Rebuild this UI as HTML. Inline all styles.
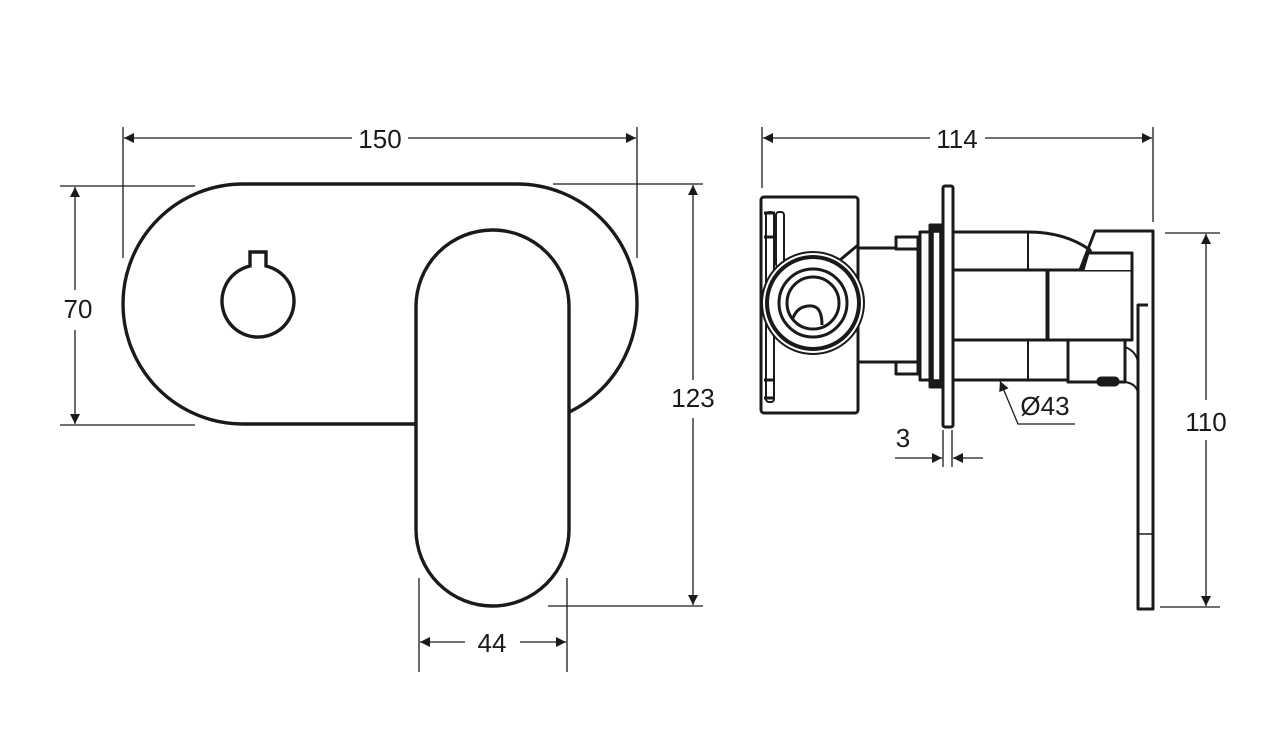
<!DOCTYPE html>
<html><head><meta charset="utf-8"><style>
html,body{margin:0;padding:0;background:#fff;}
svg{display:block}
text{font-family:"Liberation Sans",sans-serif;font-size:26px;fill:#1a1a1a;}
</style></head><body>
<svg width="1264" height="742" viewBox="0 0 1264 742" xmlns="http://www.w3.org/2000/svg">
<defs>
<marker id="a" viewBox="0 0 10 10" refX="10" refY="5" markerWidth="14" markerHeight="10" markerUnits="userSpaceOnUse" orient="auto-start-reverse"><path d="M0,0 L10,5 L0,10 z" fill="#1a1a1a"/></marker>
</defs>
<g stroke="#1a1a1a" stroke-width="1.3" fill="none">
<line x1="123" y1="127" x2="123" y2="258"/><line x1="637" y1="127" x2="637" y2="258"/>
<line x1="124" y1="138" x2="352" y2="138" marker-start="url(#a)"/><line x1="408" y1="138" x2="636" y2="138" marker-end="url(#a)"/>
<line x1="60" y1="186" x2="195" y2="186"/><line x1="60" y1="425" x2="195" y2="425"/>
<line x1="75" y1="187" x2="75" y2="290" marker-start="url(#a)"/><line x1="75" y1="330" x2="75" y2="424" marker-end="url(#a)"/>
<line x1="175" y1="252" x2="240" y2="252"/><line x1="175" y1="337" x2="240" y2="337"/>
<line x1="185" y1="253" x2="185" y2="280" marker-start="url(#a)"/><line x1="185" y1="312" x2="185" y2="336" marker-end="url(#a)"/>
<line x1="553" y1="184" x2="703" y2="184"/><line x1="548" y1="606" x2="703" y2="606"/>
<line x1="693" y1="185" x2="693" y2="380" marker-start="url(#a)"/><line x1="693" y1="418" x2="693" y2="605" marker-end="url(#a)"/>
<line x1="419" y1="578" x2="419" y2="672"/><line x1="567" y1="578" x2="567" y2="672"/>
<line x1="420" y1="642" x2="465" y2="642" marker-start="url(#a)"/><line x1="520" y1="642" x2="566" y2="642" marker-end="url(#a)"/>
<line x1="762" y1="127" x2="762" y2="188"/><line x1="1153" y1="127" x2="1153" y2="222"/>
<line x1="763" y1="138" x2="930" y2="138" marker-start="url(#a)"/><line x1="985" y1="138" x2="1152" y2="138" marker-end="url(#a)"/>
<line x1="1165" y1="233" x2="1220" y2="233"/><line x1="1160" y1="607" x2="1220" y2="607"/>
<line x1="1206" y1="234" x2="1206" y2="400" marker-start="url(#a)"/><line x1="1206" y1="440" x2="1206" y2="606" marker-end="url(#a)"/>
<line x1="943" y1="430" x2="943" y2="467"/><line x1="952" y1="430" x2="952" y2="467"/>
<line x1="895" y1="458" x2="942" y2="458" marker-end="url(#a)"/><line x1="983" y1="458" x2="953" y2="458" marker-end="url(#a)"/>
<path d="M1075,424 L1018,424 L1000,381" marker-end="url(#a)"/>
</g>
<g fill="#1a1a1a">
<text x="380" y="148" text-anchor="middle">150</text>
<text x="78" y="318" text-anchor="middle">70</text>
<text x="188" y="305" text-anchor="middle">26</text>
<text x="693" y="407" text-anchor="middle">123</text>
<text x="492" y="652" text-anchor="middle">44</text>
<text x="957" y="148" text-anchor="middle">114</text>
<text x="1206" y="431" text-anchor="middle">110</text>
<text x="903" y="447" text-anchor="middle">3</text>
<text x="1045" y="415" text-anchor="middle">Ø43</text>
</g>
<g stroke="#1a1a1a" stroke-width="3.4" fill="#fff">
<rect x="123" y="184" width="514" height="240" rx="120" ry="120"/>
<path d="M250,252 L266,252 L266,266 A36,36 0 1 1 250,266 Z" />
<rect x="416" y="230" width="153" height="376" rx="76.5" ry="76.5"/>
</g>
<g stroke="#1a1a1a" stroke-width="3" fill="#fff" stroke-linejoin="round">
<rect x="761" y="197" width="97" height="216" rx="3"/>
<path d="M764,213 L775,213 M764,237 L775,237 M764,380 L775,380 M764,398 L775,398" fill="none"/>
<rect x="766" y="212" width="8" height="190" rx="3" fill="none" stroke-width="2"/>
<rect x="776" y="212" width="8" height="55" rx="3" fill="none" stroke-width="2"/>
<path d="M840,260 L858,245" fill="none"/>
<rect x="858" y="248" width="60" height="114"/>
<rect x="896" y="237" width="22" height="12"/>
<rect x="896" y="362" width="22" height="12"/>
<circle cx="813" cy="303" r="51" stroke-width="2"/>
<circle cx="813" cy="303" r="46" stroke-width="4"/>
<circle cx="813" cy="303" r="34" stroke-width="3"/>
<circle cx="813" cy="303" r="26" stroke-width="3"/>
<path d="M793,318 Q798,305 812,306 Q822,307 822,325" fill="none"/>
<rect x="920" y="232" width="10" height="148"/>
<rect x="930" y="225" width="12" height="162" fill="#1a1a1a"/>
<rect x="933" y="232" width="7" height="148" stroke-width="1.5"/>
<rect x="943" y="186" width="10" height="241" rx="2"/>
<path d="M953,232 L1028,232 Q1065,232 1090,250 L1096,270 L953,270 Z"/>
<path d="M953,340 L1068,340 L1068,380 L1028,380 L953,380 Z"/>
<path d="M1028,232 L1028,270 M1028,340 L1028,380" fill="none" stroke-width="2"/>
<rect x="953" y="270" width="94" height="70"/>
<rect x="1048" y="270" width="84" height="70"/>
<path d="M1083,270 L1088,253 L1132,253 L1132,270" />
<path d="M1080,270 L1095,231 L1153,231 L1153,609 L1138,609 L1138,305 L1148,305" fill="none"/>
<rect x="1068" y="340" width="57" height="42"/>
<path d="M1125,347 Q1138,352 1138,365 M1125,382 Q1138,384 1138,395" fill="none" stroke-width="2"/>
<rect x="1098" y="378" width="20" height="7" rx="3" fill="#1a1a1a"/>
<path d="M1138,534 L1153,534" fill="none" stroke-width="1.5"/>
</g>
</svg>
</body></html>
